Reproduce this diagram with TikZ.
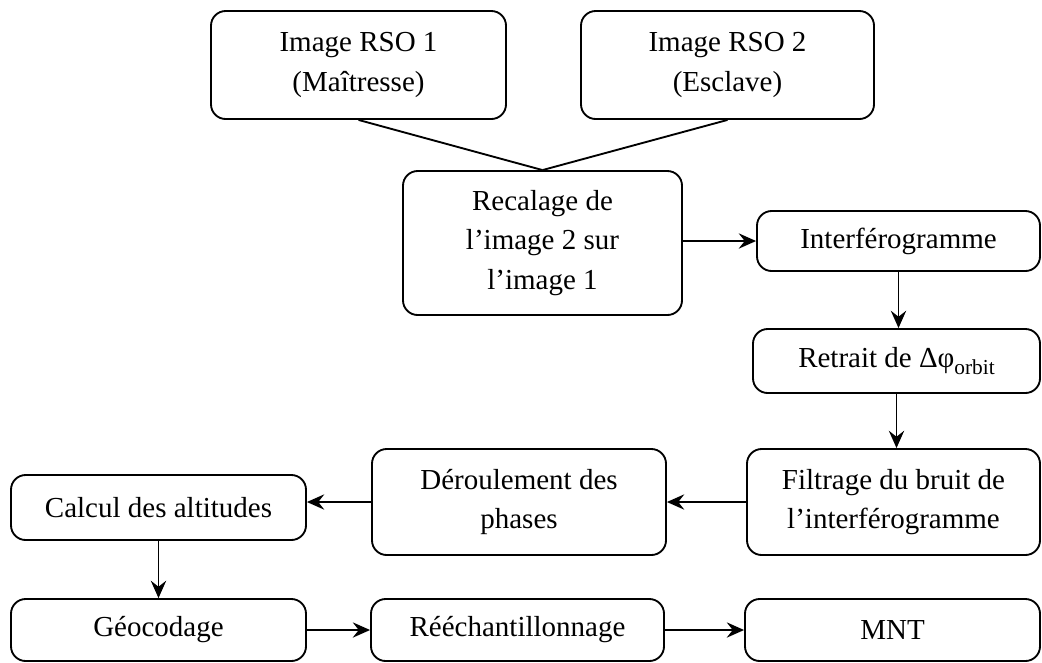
\documentclass[tikz,border=0pt]{standalone}
\usepackage{fontspec}
\setmainfont{Liberation Serif}
\usetikzlibrary{arrows.meta}
\tikzset{
	boite/.style 2 args={draw, rounded corners=11pt, line width=1.4pt, align=center, inner sep=0pt,
		minimum width={#1*0.75pt}, minimum height={#2*0.75pt}, font=\fontsize{21.75}{29.5}\selectfont},
	fleche/.style={-{Stealth[length=13pt,width=11.5pt,inset=4.5pt]}, line width=1.4pt},
	trait/.style={line width=1.4pt},
}
\newcommand{\indice}[1]{\raisebox{-5pt}{\fontsize{16}{16}\selectfont #1}}
\begin{document}
\begin{tikzpicture}[x=0.75pt,y=-0.75pt]
\useasboundingbox (0,0) rectangle (1042,662);
\node[boite={295}{108}] (rso1) at (358.5,65) {Image RSO 1\\(Maîtresse)};
\node[boite={293}{108}] (rso2) at (727.5,65) {Image RSO 2\\(Esclave)};
\node[boite={279}{144}] (recal) at (542.5,243) {Recalage de\\l’image 2 sur\\l’image 1};
\node[boite={283}{60}] (interf) at (898.5,241) {Interférogramme};
\node[boite={287}{64}] (retrait) at (896.5,361) {Retrait de Δφ\indice{orbit}};
\node[boite={293}{106}] (filtr) at (893.5,502) {Filtrage du bruit de\\l’interférogramme};
\node[boite={294}{106}] (deroul) at (519,502) {Déroulement des\\phases};
\node[boite={295}{65}] (calcul) at (158.5,507.5) {Calcul des altitudes};
\node[boite={295}{62}] (geo) at (158.5,630) {Géocodage};
\node[boite={293}{62}] (reech) at (517.5,630) {Rééchantillonnage};
\node[boite={295}{62}] (mnt) at (892.5,630) {MNT};

\draw[trait] (rso1.south) -- (recal.north);
\draw[trait] (rso2.south) -- (recal.north);
\draw[fleche] (recal.east |- interf.west) -- (interf.west);
\draw[fleche] (interf.south) -- (interf.south |- retrait.north);
\draw[fleche] (retrait.south) -- (retrait.south |- filtr.north);
\draw[fleche] (filtr.west) -- (deroul.east);
\draw[fleche] (deroul.west) -- (deroul.west -| calcul.east);
\draw[fleche] (calcul.south) -- (geo.north);
\draw[fleche] (geo.east) -- (reech.west);
\draw[fleche] (reech.east) -- (mnt.west);
\end{tikzpicture}
\end{document}
